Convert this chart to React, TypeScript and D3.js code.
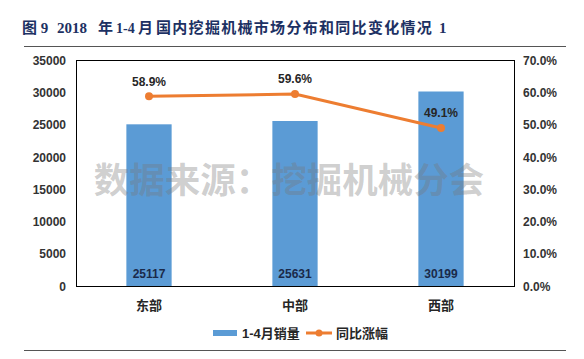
import React from "react";
import * as d3 from "d3";

const categories = ["东部", "中部", "西部"];
const sales = [25117, 25631, 30199];
const growth = [58.9, 59.6, 49.1];
const leftTicks = [0, 5000, 10000, 15000, 20000, 25000, 30000, 35000];
const rightTicks = [0, 10, 20, 30, 40, 50, 60, 70];
const titleParts = ["图 9", "2018", "年", "1-4", "月", "国内挖掘机械市场分布和同比变化情况", "1"];
const watermark = "数据来源：挖掘机械分会";
const legendBar = "1-4月销量";
const legendLine = "同比涨幅";

const W = 584;
const H = 359;
const plot = { left: 76, right: 514, top: 60.5, bottom: 286.5 };
const sans = "'Liberation Sans', Arial, 'Noto Sans CJK SC', sans-serif";
const cjk = "'Liberation Sans', 'Noto Sans CJK SC', sans-serif";
const serif = "'Liberation Serif', 'Noto Sans CJK SC', serif";
const blue = "#5B9BD5";
const orange = "#ED7D31";
const titleX = [22, 57, 98, 116, 138, 156, 439];

export default function App() {
  const x = d3.scaleBand<string>().domain(categories).range([plot.left, plot.right]).paddingInner(0).paddingOuter(0);
  const yL = d3.scaleLinear().domain([0, 35000]).range([plot.bottom, plot.top]);
  const yR = d3.scaleLinear().domain([0, 70]).range([plot.bottom, plot.top]);
  const barW = x.bandwidth() * 0.31;
  const cx = (c: string) => (x(c) as number) + x.bandwidth() / 2;
  const line = d3
    .line<number>()
    .x((_, i) => cx(categories[i]))
    .y((d) => yR(d));

  return (
    <svg width={W} height={H} style={{ position: "absolute", left: 0, top: 0, background: "#fff" }}>
      <rect x={0} y={0} width={W} height={H} fill="#fff" />
      <text y={33} fontFamily={serif} fontWeight="bold" fontSize={15} fill="#1d3163">
        {titleParts.map((p, i) => (
          <tspan key={i} x={titleX[i]} letterSpacing={i === 5 ? 1.3 : 0} fontSize={i === 3 ? 14 : 15}>
            {p}
          </tspan>
        ))}
      </text>
      <line x1={24} x2={566} y1={46.5} y2={46.5} stroke="#555" strokeWidth={1} />
      <line x1={24} x2={566} y1={350.5} y2={350.5} stroke="#555" strokeWidth={1} />

      {/* bars */}
      {sales.map((v, i) => (
        <rect key={categories[i]} x={cx(categories[i]) - barW / 2} y={yL(v)} width={barW} height={yL(0) - yL(v)} fill={blue} />
      ))}

      {/* watermark */}
      <text
        x={289}
        y={193}
        textAnchor="middle"
        fontFamily={cjk}
        fontWeight="bold"
        fontSize={35.5}
        fill="rgba(120,120,120,0.36)"
      >
        {watermark}
      </text>

      {/* plot frame */}
      <rect
        x={plot.left + 0.5}
        y={plot.top}
        width={plot.right - plot.left}
        height={plot.bottom - plot.top}
        fill="none"
        stroke="#000"
        strokeWidth={1}
      />

      {/* left axis */}
      {leftTicks.map((t) => (
        <text key={t} x={66} y={yL(t)} dy="0.35em" textAnchor="end" fontFamily={sans} fontWeight="bold" fontSize={12} fill="#333">
          {t}
        </text>
      ))}
      {/* right axis */}
      {rightTicks.map((t) => (
        <text key={t} x={523} y={yR(t)} dy="0.35em" textAnchor="start" fontFamily={sans} fontWeight="bold" fontSize={12} fill="#333">
          {t.toFixed(1) + "%"}
        </text>
      ))}

      {/* bar value labels */}
      {sales.map((v, i) => (
        <text key={i} x={cx(categories[i])} y={274} dy="0.35em" textAnchor="middle" fontFamily={sans} fontWeight="bold" fontSize={12} fill="#1a2a4a">
          {v}
        </text>
      ))}

      {/* line */}
      <path d={line(growth) || ""} fill="none" stroke={orange} strokeWidth={3} />
      {growth.map((g, i) => (
        <circle key={i} cx={cx(categories[i])} cy={yR(g)} r={4} fill={orange} />
      ))}
      {growth.map((g, i) => (
        <text key={i} x={cx(categories[i])} y={yR(g) - 15} dy="0.35em" textAnchor="middle" fontFamily={sans} fontWeight="bold" fontSize={12} fill="#262626">
          {g.toFixed(1) + "%"}
        </text>
      ))}

      {/* categories */}
      {categories.map((c) => (
        <text key={c} x={cx(c)} y={305} dy="0.35em" textAnchor="middle" fontFamily={cjk} fontWeight="bold" fontSize={13} fill="#262626">
          {c}
        </text>
      ))}

      {/* legend */}
      <rect x={213} y={330} width={24} height={6} fill={blue} />
      <text x={242} y={333} dy="0.35em" fontFamily={cjk} fontWeight="bold" fontSize={13} fill="#262626">
        {legendBar}
      </text>
      <line x1={306} x2={332} y1={333} y2={333} stroke={orange} strokeWidth={3} />
      <circle cx={319} cy={333} r={3.5} fill={orange} />
      <text x={336} y={333} dy="0.35em" fontFamily={cjk} fontWeight="bold" fontSize={13} fill="#262626">
        {legendLine}
      </text>
    </svg>
  );
}
